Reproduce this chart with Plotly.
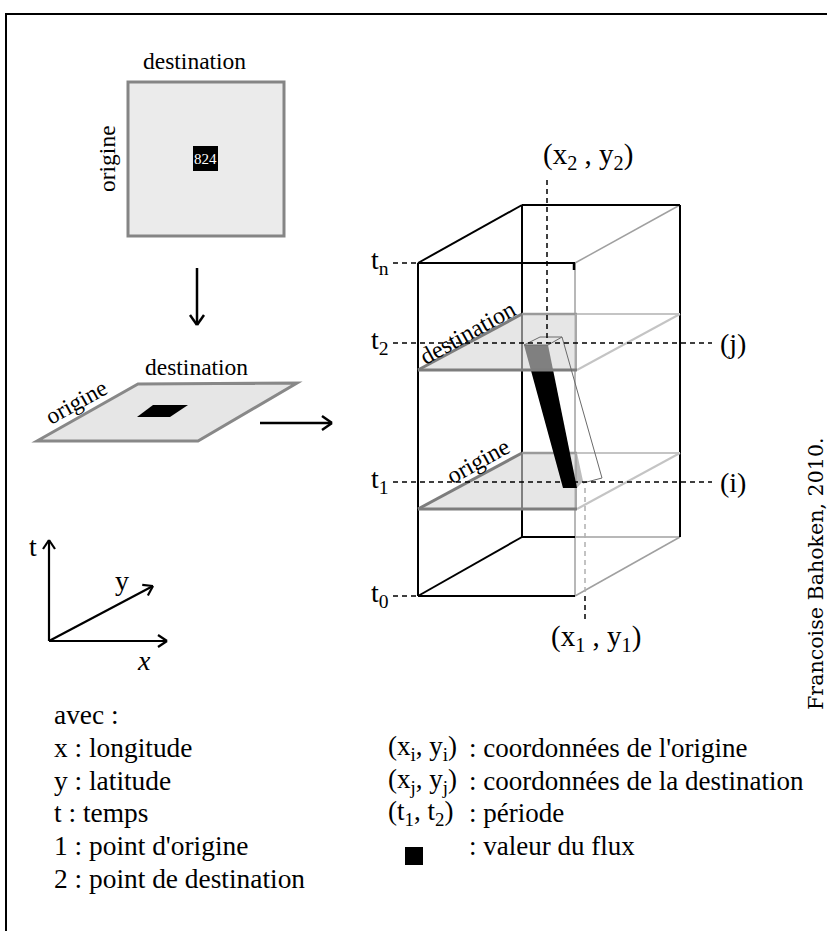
import math
import plotly.graph_objects as go

W, H = 827, 931
SERIF = "Liberation Serif, Times New Roman, Times, Tinos, serif"

# ---------------- diagram data (pixel-space geometry) -------------
frame_box = [6, 14, 845, 950]

matrix_box = [128, 82, 284, 236]
matrix_cell = [193, 146, 218, 171]
matrix_value = "824"
matrix_labels = ["destination", "origine"]

flat_plane = [(37, 441), (138, 384), (297, 383), (198, 441)]
flat_cell = [(137, 417), (153, 405), (188, 405), (170, 417)]

cube_front_x = [418, 575]
cube_back_x = [522, 680]
cube_front_y = [263, 596]
cube_back_y = [205, 537]

plane_names = ["destination", "origine"]
plane_back_y = [314, 453]
plane_front_y = [370, 509]
plane_label_pos = [(467, 333), (478, 461)]

time_subs = ["n", "2", "1", "0"]
time_y = [263, 343, 482, 596]
time_ends = [418, 712, 712, 418]
index_labels = ["(j)", "(i)"]

bar_front = [(524, 345), (548, 345), (577, 488), (563, 488)]
bar_top = [(524, 345), (540, 337), (562, 337), (548, 345)]
bar_side = [(562, 337), (602, 478), (583, 483)]
bar_shade = [(577, 453), (583, 481), (577, 488)]

dest_point = (547, 180, 343)
orig_point = (585, 488, 622)

axis_origin = (49, 641)
axis_tips = {"t": (49, 540), "y": (153, 586), "x": (167, 641)}

legend_left = ["avec :", "x : longitude", "y : latitude", "t : temps",
               "1 : point d'origine", "2 : point de destination"]
legend_left_y = [715, 748, 781, 813, 846, 879]
legend_right_sym = ["(x<sub>i</sub>, y<sub>i</sub>)", "(x<sub>j</sub>, y<sub>j</sub>)",
                    "(t<sub>1</sub>, t<sub>2</sub>)", ""]
legend_right_txt = [": coordonnées de l'origine", ": coordonnées de la destination",
                    ": période", ": valeur du flux"]
legend_right_y = [748, 781, 813, 846]
credit = "Francoise Bahoken, 2010."

# ---------------- helpers ----------------
shapes = []
annotations = []


def line(p0, p1, color="black", width=2, dash=None):
    d = dict(type="line", xref="x", yref="y", x0=p0[0], y0=p0[1], x1=p1[0], y1=p1[1],
             line=dict(color=color, width=width))
    if dash:
        d["line"]["dash"] = dash
    shapes.append(d)


def poly(pts, fill=None, color=None, width=0, opacity=1.0):
    path = "M " + " L ".join(f"{x},{y}" for x, y in pts) + " Z"
    d = dict(type="path", xref="x", yref="y", path=path, opacity=opacity,
             line=dict(color=color if color else "rgba(0,0,0,0)", width=width))
    if fill:
        d["fillcolor"] = fill
    shapes.append(d)


def rect(b, fill=None, color=None, width=0):
    d = dict(type="rect", xref="x", yref="y", x0=b[0], y0=b[1], x1=b[2], y1=b[3],
             line=dict(color=color if color else "rgba(0,0,0,0)", width=width))
    if fill:
        d["fillcolor"] = fill
    shapes.append(d)


def arrow(p0, p1, width=2.5, head=10, spread=7):
    line(p0, p1, width=width)
    dx, dy = p1[0] - p0[0], p1[1] - p0[1]
    L = math.hypot(dx, dy)
    ux, uy = dx / L, dy / L
    px, py = -uy, ux
    bx, by = p1[0] - ux * head, p1[1] - uy * head
    line(p1, (bx + px * spread, by + py * spread), width=width)
    line(p1, (bx - px * spread, by - py * spread), width=width)


def text(x, y, s, size=27, xanchor="center", yanchor="middle", angle=0,
         font=SERIF, color="black"):
    annotations.append(dict(x=x, y=y, xref="x", yref="y", text=s, showarrow=False,
                            xanchor=xanchor, yanchor=yanchor, textangle=angle,
                            font=dict(family=font, size=size, color=color)))


# ---------------- frame ----------------
rect(frame_box, color="black", width=2)

# ---------------- OD matrix ----------------
rect(matrix_box, fill="#ebebeb", color="#858585", width=3)
rect(matrix_cell, fill="black")
text((matrix_cell[0] + matrix_cell[2]) / 2, (matrix_cell[1] + matrix_cell[3]) / 2,
     matrix_value, size=15, color="white")
text(194, 61, matrix_labels[0], size=23.5)
text(107, (matrix_box[1] + matrix_box[3]) / 2, matrix_labels[1], size=23.5, angle=-90)

arrow((197, 268), (197, 325))

# ---------------- flat plane ----------------
poly(flat_plane, fill="#e6e6e6", color="#888888", width=3)
poly(flat_cell, fill="black")
text(196, 367, "destination", size=23.5)
text(76, 402, "origine", size=23.5, angle=-29)
arrow((260, 423), (332, 423))

# ---------------- cube ----------------
fx0, fx1 = cube_front_x
bx0, bx1 = cube_back_x
ft, fb = cube_front_y
bt, bb = cube_back_y
grey = "#a0a0a0"
line((fx1, ft), (fx1, fb), color=grey, width=1.5)
line((fx1, ft), (bx1, bt), color=grey, width=1.5)
line((fx1, fb), (bx1, bb), color=grey, width=1.5)
line((fx1, bb), (bx1, bb), color=grey, width=1.5)
line((fx0, ft), (fx1, ft))
line((fx0, ft), (fx0, fb))
line((fx0, fb), (fx1, fb))
line((fx0, ft), (bx0, bt))
line((bx0, bt), (bx1, bt))
line((bx1, bt), (bx1, bb))
line((bx0, bt), (bx0, bb))
line((fx0, fb), (bx0, bb))
line((bx0, bb), (fx1, bb))
line((fx1 - 1, ft), (fx1 - 1, ft + 7), width=2.5)


def draw_plane(k):
    yb, yf = plane_back_y[k], plane_front_y[k]
    poly([(fx0, yf), (bx0, yb), (fx1 + 2, yb), (fx1 + 2, yf)], fill="#d6d6d6", opacity=0.6)
    line((fx1 + 2, yb), (bx1, yb), color="#c4c4c4", width=2)
    line((fx1 + 2, yf), (bx1, yb), color="#c4c4c4", width=2)
    line((bx0, yb), (fx1 + 2, yb), color="#9a9a9a", width=2.5)
    line((fx1 + 1, yb), (fx1 + 1, yf), color="#a8a8a8", width=2)
    line((fx0, yf), (bx0, yb), color="#7d7d7d", width=3)
    line((fx0, yf), (fx1 + 2, yf), color="#7d7d7d", width=3)


draw_plane(1)
poly(bar_shade, fill="#bdbdbd")
poly(bar_front, fill="black")
draw_plane(0)
poly(bar_top, color="#6a6a6a", width=1)
line(bar_top[2], bar_side[0], color="#6a6a6a", width=1)
line(bar_side[0], bar_side[1], color="#6a6a6a", width=1)
line(bar_side[1], bar_side[2], color="#6a6a6a", width=1)

for k, (name, pos) in enumerate(zip(plane_names, plane_label_pos)):
    text(pos[0], pos[1], name, size=24, angle=-29)

# ---------------- time levels ----------------
for sub, y, xe in zip(time_subs, time_y, time_ends):
    line((393, y), (xe, y), width=1.5, dash="5px,4px")
    text(391, y - 2, f"t<sub>{sub}</sub>", size=28, xanchor="right")
for lab, y in zip(index_labels, [time_y[1], time_y[2]]):
    text(733, y, lab, size=28)

line((dest_point[0], dest_point[1]), (dest_point[0], dest_point[2]), width=1.5, dash="5px,4px")
line((orig_point[0], orig_point[1]), (orig_point[0], fb), color="#b0b0b0", width=1.5, dash="5px,4px")
line((orig_point[0], fb), (orig_point[0], orig_point[2]), width=1.5, dash="5px,4px")
text(588, 156, "(x<sub>2</sub> , y<sub>2</sub>)", size=29)
text(596, 638, "(x<sub>1</sub> , y<sub>1</sub>)", size=29)

# ---------------- axes glyph ----------------
for name, tip in axis_tips.items():
    arrow(axis_origin, tip, width=2.2, head=9, spread=6)
text(33, 546, "t", size=28)
text(122, 580, "y", size=28)
text(144, 660, "<i>x</i>", size=28)

# ---------------- legends ----------------
for s, y in zip(legend_left, legend_left_y):
    text(52, y, s, size=27.4, xanchor="left")
for sym, txt, y in zip(legend_right_sym, legend_right_txt, legend_right_y):
    if sym:
        text(386, y, sym, size=27, xanchor="left")
    text(467, y, txt, size=27, xanchor="left")
rect([405, 847, 423, 865], fill="black")

text(816, 574, credit, size=20.6, angle=-90, font="DejaVu Serif, serif")

# ---------------- figure ----------------
fig = go.Figure()
fig.add_trace(go.Scatter(x=[0, W], y=[0, H], mode="markers",
                         marker=dict(opacity=0), hoverinfo="skip", showlegend=False))
fig.update_layout(
    width=W, height=H, margin=dict(l=0, r=0, t=0, b=0),
    paper_bgcolor="white", plot_bgcolor="white",
    font=dict(family=SERIF),
    xaxis=dict(range=[0, W], visible=False, fixedrange=True),
    yaxis=dict(range=[H, 0], visible=False, fixedrange=True),
    shapes=shapes, annotations=annotations, showlegend=False,
)
fig.write_html("out.html", config={"displayModeBar": False},
               post_script="document.body.style.margin='0';document.body.style.overflow='hidden';")
